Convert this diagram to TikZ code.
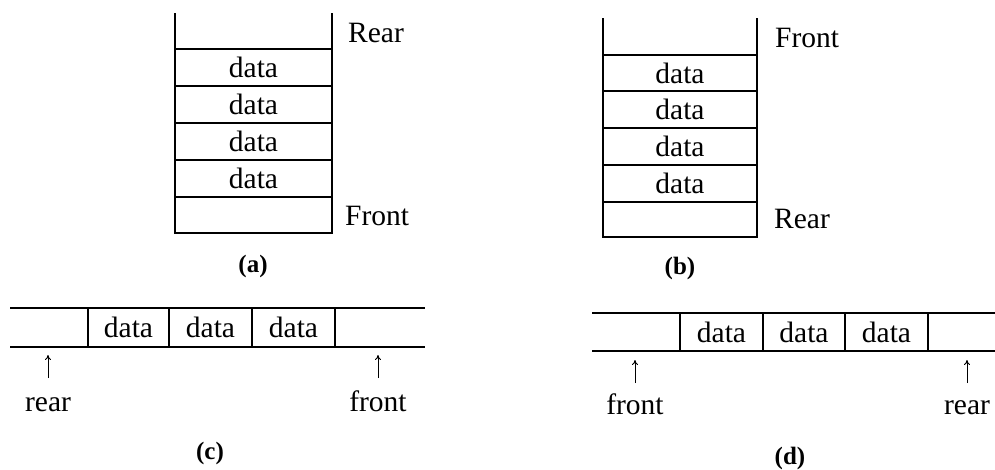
\documentclass[tikz,border=0pt]{standalone}
\usepackage{fontspec}
\setmainfont{Liberation Serif}
\usetikzlibrary{arrows.meta}
\begin{document}
\begin{tikzpicture}[x=1pt,y=-1pt,
  box/.style={line width=1.2pt,black},
  txt/.style={font=\fontsize{29.5}{31}\selectfont,inner sep=0pt},
  caption/.style={font=\fontsize{25}{27}\selectfont\bfseries,inner sep=0pt},
  ptr/.style={line width=1pt,-{To[length=5pt,width=6pt]}}]
\useasboundingbox (0,0) rectangle (995,469);

% (a) vertical queue, rear on top
\draw[box] (175,13) -- (175,233) -- (332,233) -- (332,13);
\foreach \y in {49,86,123,160,197} \draw[box] (175,\y) -- (332,\y);
\foreach \y/\n in {67.5/1,104.5/2,141.5/3,178.5/4}
  \node[txt] (ad\n) at (253.5,\y) {data};
\node[txt,anchor=base west] (arear) at (348,42) {Rear};
\node[txt,anchor=base west] (afront) at (345,225) {Front};
\node[caption] (acap) at (253,266) {(a)};

% (b) vertical queue, front on top
\draw[box] (603,18) -- (603,237) -- (757,237) -- (757,18);
\foreach \y in {55,91,128,165,202} \draw[box] (603,\y) -- (757,\y);
\foreach \y/\n in {73/1,109.5/2,146.5/3,183.5/4}
  \node[txt] (bd\n) at (680,\y) {data};
\node[txt,anchor=base west] (bfront) at (775,47) {Front};
\node[txt,anchor=base west] (brear) at (774,228) {Rear};
\node[caption] (bcap) at (680,268) {(b)};

% (c) horizontal queue, rear on the left
\draw[box] (10,308) -- (425,308);
\draw[box] (10,347) -- (425,347);
\foreach \x in {88,169,252,335} \draw[box] (\x,308) -- (\x,347);
\foreach \x/\n in {128.5/1,210.5/2,293.5/3}
  \node[txt] (cd\n) at (\x,327) {data};
\node[txt,anchor=base] (crear) at (48,411) {rear};
\node[txt,anchor=base] (cfront) at (378,411) {front};
\coordinate (crtip) at (48,355);
\coordinate (cftip) at (378,355);
\draw[ptr] (48,378) -- (crtip);
\draw[ptr] (378,378) -- (cftip);
\node[caption] (ccap) at (210,453) {(c)};

% (d) horizontal queue, front on the left
\draw[box] (592,313) -- (995,313);
\draw[box] (592,351) -- (995,351);
\foreach \x in {680,763,845,928} \draw[box] (\x,313) -- (\x,351);
\foreach \x/\n in {721.5/1,804/2,886.5/3}
  \node[txt] (dd\n) at (\x,332) {data};
\node[txt,anchor=base] (dfront) at (635,414) {front};
\node[txt,anchor=base] (drear) at (967,414) {rear};
\coordinate (dftip) at (635,360);
\coordinate (drtip) at (967,360);
\draw[ptr] (635,383) -- (dftip);
\draw[ptr] (967,383) -- (drtip);
\node[caption] (dcap) at (790,458) {(d)};
\end{tikzpicture}
\end{document}
